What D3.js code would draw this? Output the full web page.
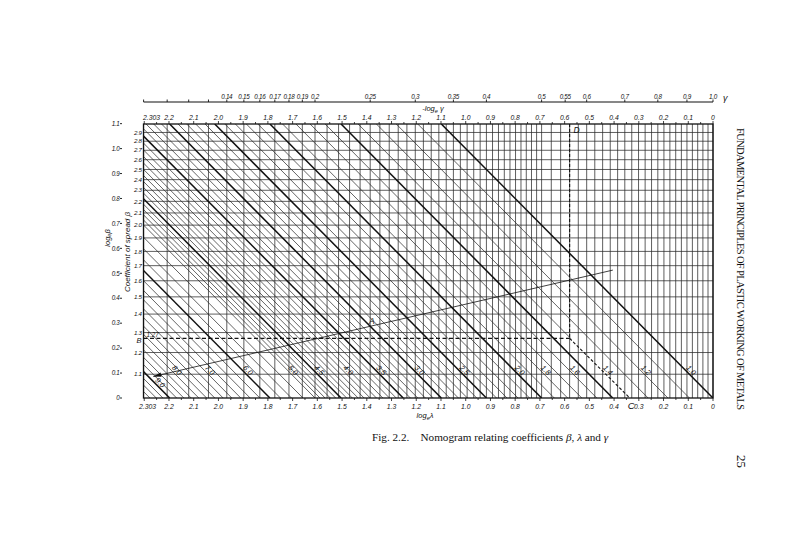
<!DOCTYPE html>
<html>
<head>
<meta charset="utf-8">
<script src="https://cdn.jsdelivr.net/npm/d3@7"></script>
<style>
  html, body { margin: 0; padding: 0; background: #fff; }
  svg { display: block; }
  .lbl { font-family: "Liberation Sans", Arial, sans-serif; font-style: italic; fill: #111; }
  .serif { font-family: "Liberation Serif", "Times New Roman", serif; fill: #111; }
</style>
</head>
<body>
<div id="chart"></div>
<script>
// Nomogram: ln(beta) vs -ln(gamma), lines of constant lambda (lambda*beta*gamma = 1)

const gammaTicks = [0.14, 0.15, 0.16, 0.17, 0.18, 0.19, 0.2, 0.25, 0.3, 0.35, 0.4, 0.5, 0.55, 0.6, 0.7, 0.8, 0.9, 1.0];
const gammaMinor = [0.1, 0.11, 0.12, 0.13];
const logTicks = [2.303, 2.2, 2.1, 2.0, 1.9, 1.8, 1.7, 1.6, 1.5, 1.4, 1.3, 1.2, 1.1, 1.0, 0.9, 0.8, 0.7, 0.6, 0.5, 0.4, 0.3, 0.2, 0.1, 0];
const logBetaTicks = [0, 0.1, 0.2, 0.3, 0.4, 0.5, 0.6, 0.7, 0.8, 0.9, 1.0, 1.1];
const betaTicks = [1.1, 1.2, 1.3, 1.4, 1.5, 1.6, 1.7, 1.8, 1.9, 2.0, 2.1, 2.2, 2.3, 2.4, 2.5, 2.6, 2.7, 2.8, 2.9];
const lambdaLabels = [9, 8, 7, 6, 5, 4.5, 4, 3.5, 3, 2.5, 2, 1.8, 1.6, 1.4, 1.2, 1.0];
const lambdaThick = [1, 1.5, 2, 2.5, 3, 3.5, 4.5, 6, 9];
// vertical grid at gamma values, horizontal grid at beta values
const gammaGrid = d3.range(10, 50).map(v => v / 100).concat(d3.range(25, 51).map(v => v / 50));
const lambdaThin = d3.range(10, 50).map(v => v / 10).concat(d3.range(20, 41).map(v => v / 4));
// worked example: D (gamma) -> B (beta) -> C (lambda)
const exGamma = 0.56, exBeta = 1.27, exLambda = 1.4;
// auxiliary line A
const lineA = [{ g: 0.104, b: 1.09 }, { g: 0.667, b: 1.67 }];

const W = 800, H = 551;
const lnB3 = Math.log(3);
const x = d3.scaleLinear().domain([2.303, 0]).range([143.5, 713]);
const y = d3.scaleLinear().domain([0, lnB3]).range([398, 124]);
const xg = g => x(-Math.log(g));
const yb = b => y(Math.log(b));
const fmt1 = d3.format(".1f");
const fmtTick = d => d === 2.303 ? "2.303" : d === 0 ? "0" : fmt1(d);

const svg = d3.select("#chart").append("svg").attr("width", W).attr("height", H);
svg.append("rect").attr("width", W).attr("height", H).attr("fill", "#fff");

svg.append("clipPath").attr("id", "plot")
  .append("rect").attr("x", x(2.303)).attr("y", y(lnB3))
  .attr("width", x(0) - x(2.303)).attr("height", y(0) - y(lnB3));

// grid
const gGrid = svg.append("g").attr("stroke", "#2a2a2a").attr("stroke-width", 0.75);
gGrid.selectAll("line.v").data(gammaGrid).join("line").attr("class", "v")
  .attr("x1", d => xg(d)).attr("x2", d => xg(d)).attr("y1", y(lnB3)).attr("y2", y(0));
gGrid.selectAll("line.h").data(betaTicks).join("line").attr("class", "h")
  .attr("x1", x(2.303)).attr("x2", x(0)).attr("y1", d => yb(d)).attr("y2", d => yb(d));

// lambda diagonals
const gDiag = svg.append("g").attr("clip-path", "url(#plot)");
const diagLine = (lam, b0) => {
  const l = Math.log(lam), t0 = Math.log(b0 || 1);
  return `M${x(l + t0)},${y(t0)}L${x(l + lnB3)},${y(lnB3)}`;
};
const isThick = v => lambdaThick.some(t => Math.abs(t - v) < 1e-6);
gDiag.selectAll("path.thin").data(lambdaThin.filter(v => !isThick(v))).join("path").attr("class", "thin")
  .attr("d", d => diagLine(d, Math.abs(d - exLambda) < 1e-6 ? exBeta : 1))
  .attr("fill", "none").attr("stroke", "#222").attr("stroke-width", 0.7);
gDiag.selectAll("path.thick").data(lambdaThick).join("path").attr("class", "thick")
  .attr("d", d => diagLine(d, 1))
  .attr("fill", "none").attr("stroke", "#111").attr("stroke-width", 1.5);

// border
svg.append("rect").attr("x", x(2.303)).attr("y", y(lnB3))
  .attr("width", x(0) - x(2.303)).attr("height", y(0) - y(lnB3))
  .attr("fill", "none").attr("stroke", "#111").attr("stroke-width", 1.3);

// worked example dashed path
const gEx = svg.append("g").attr("fill", "none").attr("stroke", "#111");
gEx.append("line").attr("x1", xg(exGamma)).attr("x2", xg(exGamma))
  .attr("y1", y(lnB3)).attr("y2", yb(exBeta))
  .attr("stroke-width", 1.1).attr("stroke-dasharray", "3 2");
gEx.append("line").attr("x1", x(2.303)).attr("x2", xg(exGamma))
  .attr("y1", yb(exBeta)).attr("y2", yb(exBeta))
  .attr("stroke-width", 1.1).attr("stroke-dasharray", "4 2.5");
gEx.append("line").attr("x1", xg(exGamma)).attr("y1", yb(exBeta))
  .attr("x2", x(Math.log(exLambda))).attr("y2", y(0))
  .attr("stroke-width", 1.1).attr("stroke-dasharray", "3 2");

// line A with arrow at its start
const pA = lineA.map(d => [xg(d.g), yb(d.b)]);
svg.append("path").attr("d", d3.line()(pA)).attr("fill", "none")
  .attr("stroke", "#111").attr("stroke-width", 0.8);
const ang = Math.atan2(pA[0][1] - pA[1][1], pA[0][0] - pA[1][0]) * 180 / Math.PI;
svg.append("path").attr("d", "M0,0L-8,-2.2L-8,2.2Z").attr("fill", "#111")
  .attr("transform", `translate(${pA[0][0]},${pA[0][1]}) rotate(${ang})`);

// lambda labels along lines
const rot = Math.atan2(y(0) - y(1), x(0) - x(1)) * 180 / Math.PI;
svg.selectAll("text.lam").data(lambdaLabels).join("text").attr("class", "lbl lam")
  .attr("font-size", 7.5).attr("text-anchor", "middle")
  .attr("transform", d => {
    const t = d >= 9 ? 0.05 : 0.1;
    return `translate(${x(Math.log(d) + t)},${y(t)}) rotate(${rot})`;
  })
  .attr("dy", -1.5).text(d => fmt1(d));

// top gamma scale
const gTop = svg.append("g");
gTop.append("line").attr("x1", xg(0.1)).attr("x2", xg(1.0)).attr("y1", 102).attr("y2", 102)
  .attr("stroke", "#111").attr("stroke-width", 1.1);
gTop.selectAll("line.t").data(gammaMinor.concat(gammaTicks)).join("line").attr("class", "t")
  .attr("x1", d => xg(d)).attr("x2", d => xg(d)).attr("y1", 102).attr("y2", 99.5)
  .attr("stroke", "#111").attr("stroke-width", 0.9);
gTop.selectAll("text").data(gammaTicks).join("text").attr("class", "lbl")
  .attr("x", d => xg(d)).attr("y", 98.5).attr("font-size", 6.3).attr("text-anchor", "middle")
  .attr("letter-spacing", -0.3)
  .text(d => d === 1 ? "1.0" : String(d));
gTop.append("text").attr("class", "lbl").attr("x", 723).attr("y", 101)
  .attr("font-size", 9).text("γ");

// -ln gamma scale (top) and ln lambda scale (bottom)
const tickMarks = d3.range(0, 47).map(v => v * 0.05).filter(v => v <= 2.303);
svg.selectAll("line.tt").data(tickMarks).join("line").attr("class", "tt")
  .attr("x1", d => x(d)).attr("x2", d => x(d)).attr("y1", y(lnB3)).attr("y2", d => y(lnB3) - (Math.round(d * 20) % 2 ? 2 : 3))
  .attr("stroke", "#111").attr("stroke-width", 0.8);
svg.selectAll("line.bt").data(tickMarks).join("line").attr("class", "bt")
  .attr("x1", d => x(d)).attr("x2", d => x(d)).attr("y1", y(0)).attr("y2", d => y(0) + (Math.round(d * 20) % 2 ? 2 : 3))
  .attr("stroke", "#111").attr("stroke-width", 0.8);
svg.selectAll("text.tl").data(logTicks).join("text").attr("class", "lbl tl")
  .attr("x", d => d === 2.303 ? x(d) + 8 : x(d)).attr("y", 119.5)
  .attr("font-size", 6.8).attr("text-anchor", "middle").text(fmtTick);
svg.selectAll("text.bl").data(logTicks).join("text").attr("class", "lbl bl")
  .attr("x", d => d === 2.303 ? x(d) + 4 : x(d)).attr("y", 409)
  .attr("font-size", 6.8).attr("text-anchor", "middle").text(fmtTick);
const tG = svg.append("text").attr("class", "lbl").attr("x", 433).attr("y", 111)
  .attr("font-size", 7.5).attr("text-anchor", "middle");
tG.append("tspan").text("-log");
tG.append("tspan").attr("font-size", 5.5).attr("dy", 1.5).text("e");
tG.append("tspan").attr("dy", -1.5).text(" γ");
const tL = svg.append("text").attr("class", "lbl").attr("x", 425).attr("y", 418)
  .attr("font-size", 7.5).attr("text-anchor", "middle");
tL.append("tspan").text("log");
tL.append("tspan").attr("font-size", 5.5).attr("dy", 1.5).text("e");
tL.append("tspan").attr("dy", -1.5).text("λ");

// left ln beta scale
const gL = svg.append("g");
gL.append("line").attr("x1", 122).attr("x2", 122).attr("y1", y(1.1)).attr("y2", y(0))
  .attr("stroke", "#111").attr("stroke-width", 1.1);
gL.selectAll("line").data(logBetaTicks).join("line")
  .attr("x1", 120).attr("x2", 122).attr("y1", d => y(d)).attr("y2", d => y(d))
  .attr("stroke", "#111").attr("stroke-width", 0.9);
gL.selectAll("text").data(logBetaTicks).join("text").attr("class", "lbl")
  .attr("x", 119.5).attr("y", d => y(d)).attr("dy", "0.35em")
  .attr("font-size", 6.3).attr("letter-spacing", -0.3)
  .attr("text-anchor", "end").text(d => d === 0 ? "0" : fmt1(d));
const tB = svg.append("text").attr("class", "lbl").attr("font-size", 7.5).attr("text-anchor", "middle")
  .attr("transform", "translate(109.5,238) rotate(-90)");
tB.append("tspan").text("log");
tB.append("tspan").attr("font-size", 5.5).attr("dy", 1.5).text("e");
tB.append("tspan").attr("dy", -1.5).text("β");

// beta labels
svg.selectAll("text.bb").data(betaTicks).join("text").attr("class", "lbl bb")
  .attr("x", 141.5).attr("y", d => yb(d)).attr("dy", "0.35em")
  .attr("font-size", 6.2).attr("letter-spacing", -0.4)
  .attr("text-anchor", "end").text(d => fmt1(d));
svg.append("text").attr("class", "lbl").attr("font-size", 8).attr("text-anchor", "middle")
  .attr("transform", "translate(129.5,252) rotate(-90)").text("Coefficient of spread β");

// point labels
svg.append("text").attr("class", "lbl").attr("x", x(2.303) + 3).attr("y", yb(exBeta) - 1.5)
  .attr("font-size", 6.3).text(String(exBeta));
svg.append("text").attr("class", "lbl").attr("x", 141.5).attr("y", yb(exBeta) + 4.5)
  .attr("font-size", 7.5).attr("text-anchor", "end").text("B");
svg.append("text").attr("class", "lbl").attr("x", xg(exGamma) + 4).attr("y", y(lnB3) + 9)
  .attr("font-size", 8.5).text("D");
svg.append("text").attr("class", "lbl").attr("x", x(Math.log(exLambda)) - 2).attr("y", 409)
  .attr("font-size", 9.5).text("C");
svg.append("text").attr("class", "lbl").attr("x", 369).attr("y", 324)
  .attr("font-size", 8.5).text("A");

// caption
const cap = svg.append("text").attr("class", "serif").attr("x", 372).attr("y", 441).attr("font-size", 11.2);
cap.append("tspan").text("Fig. 2.2.\u2003Nomogram relating coefficients ");
cap.append("tspan").attr("font-style", "italic").text("β");
cap.append("tspan").text(", ");
cap.append("tspan").attr("font-style", "italic").text("λ");
cap.append("tspan").text(" and ");
cap.append("tspan").attr("font-style", "italic").text("γ");

// running head and page number
svg.append("text").attr("class", "serif").attr("font-size", 10.5)
  .attr("transform", "translate(737,128) rotate(90)")
  .attr("textLength", 282).attr("lengthAdjust", "spacing")
  .text("FUNDAMENTAL PRINCIPLES OF PLASTIC WORKING OF METALS");
svg.append("text").attr("class", "serif").attr("font-size", 13)
  .attr("transform", "translate(737,455) rotate(90)").text("25");
</script>
</body>
</html>
